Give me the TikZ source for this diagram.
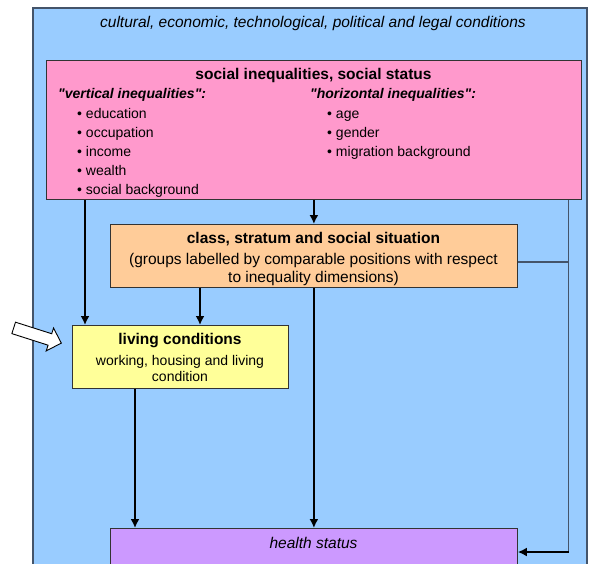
\documentclass[tikz,border=0pt]{standalone}
\usepackage{fontspec}
\setmainfont{Liberation Sans}[Ligatures=TeXOff]
\usetikzlibrary{shapes,arrows,arrows.meta,positioning}

\definecolor{condblue}{HTML}{99CCFF}
\definecolor{statpink}{HTML}{FF99CC}
\definecolor{classorange}{HTML}{FFCC99}
\definecolor{livyellow}{HTML}{FFFF99}
\definecolor{healthpurple}{HTML}{CC99FF}
\definecolor{framegray}{HTML}{44546A}

\tikzset{
  box/.style={draw=black!80, line width=0.8pt, rectangle, anchor=north west, inner sep=0pt},
  txt/.style={font=\fontsize{14}{19}\selectfont, inner sep=0pt},
  bigtxt/.style={font=\fontsize{15.5}{18}\selectfont, inner sep=0pt},
  slanted/.style={font=\fontsize{15.5}{18}\selectfont\itshape, inner sep=0pt},
  head/.style={font=\fontsize{15.5}{18}\selectfont\bfseries, inner sep=0pt},
  sub/.style={font=\fontsize{14}{18}\selectfont\bfseries\itshape, inner sep=0pt, anchor=west},
  item/.style={txt, anchor=base west},
  flow/.style={-{Latex[length=9pt,width=9pt]}, line width=2pt},
  side/.style={line width=1.2pt, draw=framegray}
}

\begin{document}
\begin{tikzpicture}[x=1pt, y=-1pt]
\clip (0,0) rectangle (594,563);

% conditions frame
\draw[fill=condblue, draw=framegray, line width=1.2pt] (33,8) rectangle (587,575);
\node[slanted] (cond) at (313,23) {cultural, economic, technological, political and legal conditions};

% social inequalities
\node[box, fill=statpink, minimum width=535pt, minimum height=139pt] (status) at (46,60) {};
\node[head] (statustitle) at (313.5,75) {social inequalities, social status};
\node[sub] (vert) at (58,95) {"vertical inequalities":};
\node[sub] (horiz) at (310,95) {"horizontal inequalities":};
\foreach \t [count=\i] in {education, occupation, income, wealth, social background}
  \node[item] (v\i) at (77,99+19*\i) {\textbullet\ \t};
\foreach \t [count=\i] in {age, gender, migration background}
  \node[item] (h\i) at (327,99+19*\i) {\textbullet\ \t};

% class
\node[box, fill=classorange, minimum width=407pt, minimum height=63pt] (class) at (110,224) {};
\node[head] (classtitle) at (313.5,239) {class, stratum and social situation};
\node[bigtxt, align=center] (classtext) at (313.5,269) {(groups labelled by comparable positions with respect\\to inequality dimensions)};

% living conditions
\node[box, fill=livyellow, minimum width=216pt, minimum height=63pt] (living) at (72,325) {};
\node[head] (livingtitle) at (180,341) {living conditions};
\node[txt, align=center, font=\fontsize{14}{16}\selectfont] (livingtext) at (180,368) {working, housing and living\\condition};

% health
\node[box, fill=healthpurple, minimum width=407pt, minimum height=60pt] (health) at (110,528) {};
\node[slanted] (healthtext) at (313.5,543) {health status};

% hollow input arrow
\begin{scope}[shift={(37.5,335.5)}, rotate=-17.7]
\draw[fill=white, line width=0.9pt] (-25,-6) -- (13,-6) -- (13,-12) -- (25,0) -- (13,12) -- (13,6) -- (-25,6) -- cycle;
\end{scope}

% arrows
\draw[flow] ([xshift=39pt]status.south west) -- ([xshift=13pt]living.north west);
\draw[flow] (status.south) -- (class.north);
\draw[flow] ([xshift=90pt]class.south west) -- ([xshift=128pt]living.north west);
\draw[flow] (class.south) -- (health.north);
\draw[flow] ([xshift=63pt]living.south west) -- ([xshift=25pt]health.north west);

% side path
\coordinate (sr) at ([xshift=-13pt]status.south east);
\coordinate (hs) at ([yshift=-24pt]health.north east);
\coordinate (ce) at ([yshift=-6pt]class.east);
\draw[side] (sr) -- (sr |- hs);
\draw[side] (ce) -- (ce -| sr);
\draw[flow] (sr |- hs) -- (hs);
\end{tikzpicture}
\end{document}
